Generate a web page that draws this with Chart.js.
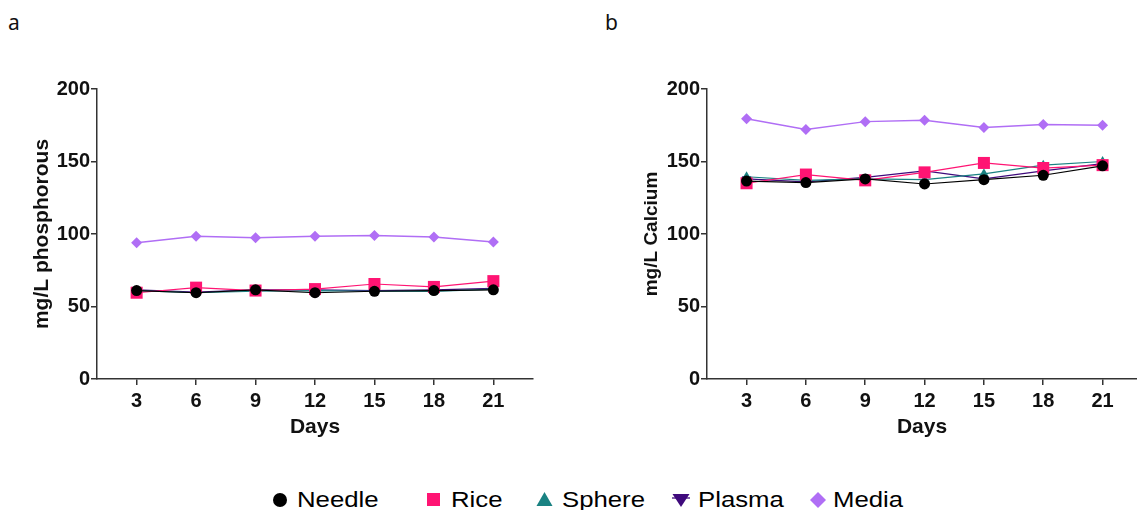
<!DOCTYPE html>
<html>
<head>
<meta charset="utf-8">
<script src="https://cdn.jsdelivr.net/npm/chart.js@4.4.1/dist/chart.umd.min.js"></script>
<style>
  body { margin:0; width:1137px; height:510px; background:#fff; position:relative; overflow:hidden; font-family:"Liberation Sans", Arial, sans-serif; }
  canvas { position:absolute; top:0; }
  .panel { position:absolute; top:8px; font-family:"Noto Sans", sans-serif; font-size:21px; color:#111; }
  .lg { position:absolute; top:487px; font-size:22px; line-height:1.149; color:#000; transform:scaleX(1.17); transform-origin:left top; white-space:nowrap; }
  .mk { position:absolute; }
</style>
</head>
<body>
<div class="panel" style="left:8px">a</div>
<div class="panel" style="left:605px">b</div>
<canvas id="phos" width="560" height="450" style="left:0"></canvas>
<canvas id="calc" width="527" height="450" style="left:610px"></canvas>

<svg class="mk" style="left:270px;top:490px" width="20" height="20"><circle cx="10" cy="10" r="7" fill="#000"/></svg>
<div class="lg" style="left:297px">Needle</div>
<svg class="mk" style="left:424px;top:490px" width="20" height="20"><rect x="3" y="3" width="13" height="13" fill="#ff1473"/></svg>
<div class="lg" style="left:451px">Rice</div>
<svg class="mk" style="left:535px;top:490px" width="20" height="20"><polygon points="9.5,2 17.5,16 1.5,16" fill="#1a8282"/></svg>
<div class="lg" style="left:562px">Sphere</div>
<svg class="mk" style="left:671px;top:490px" width="20" height="20"><polygon points="1.5,4 18.5,4 10,17" fill="#3f0a7c"/><line x1="1" y1="8" x2="19" y2="8" stroke="#3f0a7c" stroke-width="1.3"/></svg>
<div class="lg" style="left:698px">Plasma</div>
<svg class="mk" style="left:808px;top:490px" width="20" height="20"><polygon points="10,2 18,10 10,18 2,10" fill="#b06ef5"/></svg>
<div class="lg" style="left:833px">Media</div>

<script>
const days = [3, 6, 9, 12, 15, 18, 21];
const seriesNames = ["Needle", "Rice", "Sphere", "Plasma", "Media"];

// phosphorous (panel a)
const phosNeedle = [61, 59.5, 61.5, 59.5, 60.5, 61, 61.5];
const phosRice   = [59.5, 63, 61, 62, 65.5, 63.5, 67.5];
const phosSphere = [61, 59.5, 60.5, 61, 60.5, 60.5, 62];
const phosPlasma = [61.5, 60, 61.5, 61.5, 61, 61.5, 62.5];
const phosMedia  = [94, 98.5, 97.5, 98.5, 99, 98, 94.5];

// calcium (panel b)
const calcNeedle = [136.5, 135.5, 138, 134.5, 137.5, 140.5, 147];
const calcRice   = [135, 141, 137, 142.5, 149, 145.5, 147.5];
const calcSphere = [139.5, 137, 138, 137.5, 141.5, 147.5, 150];
const calcPlasma = [138, 136, 139, 143.5, 138, 143.5, 148.5];
const calcMedia  = [179.5, 172, 177.5, 178.5, 173.5, 175.5, 175];

const yTicks = [0, 50, 100, 150, 200];

const styles = [
  {color:"#000000", pointStyle:"circle",   radius:5.5, rot:0,   lw:1.2},
  {color:"#ff1473", pointStyle:"rect",     radius:8.5, rot:0,   lw:1.2},
  {color:"#1a8282", pointStyle:"triangle", radius:5.5, rot:0,   lw:1.2},
  {color:"#3f0a7c", pointStyle:"triangle", radius:5.5, rot:180, lw:1.2},
  {color:"#b06ef5", pointStyle:"rectRot",  radius:5.5, rot:0,   lw:1.5},
];

const FONT = "'Liberation Sans', Arial, sans-serif";

function makeChart(id, yTitle, titleSize, seriesList, xMax, padRight) {
  const datasets = seriesList.map((vals, i) => ({
    label: seriesNames[i],
    data: vals.map((v, j) => ({x: days[j], y: v})),
    borderColor: styles[i].color,
    backgroundColor: styles[i].color,
    borderWidth: styles[i].lw,
    pointStyle: styles[i].pointStyle,
    pointRadius: styles[i].radius,
    pointRotation: styles[i].rot,
    pointBorderWidth: 0,
    pointBackgroundColor: styles[i].color,
    tension: 0,
  }));
  new Chart(document.getElementById(id), {
    type: "line",
    data: {datasets},
    options: {
      responsive: false,
      animation: false,
      clip: false,
      layout: {autoPadding: false, padding: {top: 89, right: padRight, left: 0, bottom: 0}},
      plugins: {legend: {display: false}, tooltip: {enabled: false}},
      scales: {
        x: {
          type: "linear",
          min: 1,
          max: xMax,
          afterBuildTicks: s => { s.ticks = days.map(v => ({value: v})); },
          afterFit: s => { s.height = 71; },
          grid: {drawOnChartArea: false, drawTicks: true, tickLength: 6, color: "#333", lineWidth: 1.5},
          border: {color: "#333", width: 1.5},
          ticks: {color: "#111", padding: 4, maxRotation: 0, font: {family: FONT, size: 20, weight: "bold"}},
          title: {display: true, text: "Days", color: "#111", padding: {top: 0, bottom: 10},
                  font: {family: FONT, size: 21, weight: "bold"}},
        },
        y: {
          min: 0,
          max: 200,
          afterBuildTicks: s => { s.ticks = yTicks.map(v => ({value: v})); },
          afterFit: s => { s.width = 97; },
          grid: {drawOnChartArea: false, drawTicks: true, tickLength: 6, color: "#333", lineWidth: 1.5},
          border: {color: "#333", width: 1.5},
          ticks: {color: "#111", padding: 1, font: {family: FONT, size: 20, weight: "bold"}},
          title: {display: true, text: yTitle, color: "#111", padding: {top: 30, bottom: 0},
                  font: {family: FONT, size: titleSize, weight: "bold"}},
        },
      },
    },
  });
}

makeChart("phos", "mg/L phosphorous", 21,
  [phosNeedle, phosRice, phosSphere, phosPlasma, phosMedia], 23, 27);
makeChart("calc", "mg/L Calcium", 19,
  [calcNeedle, calcRice, calcSphere, calcPlasma, calcMedia], 22.74, 0);
</script>
</body>
</html>
